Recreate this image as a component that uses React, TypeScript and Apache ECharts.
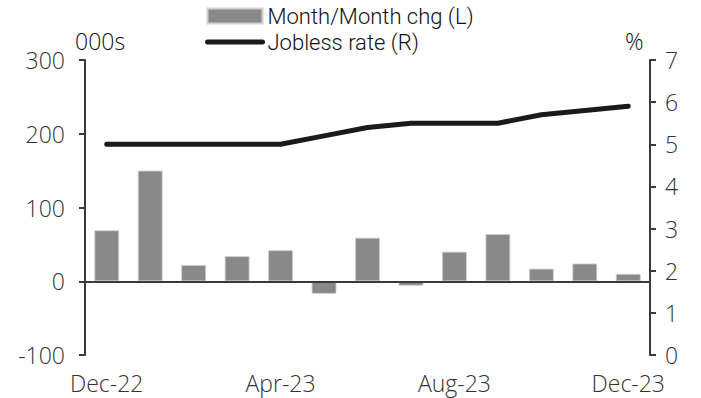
import React, { useEffect, useRef } from "react";
import * as echarts from "echarts";

const categories = ["Dec-22", "Jan-23", "Feb-23", "Mar-23", "Apr-23", "May-23", "Jun-23", "Jul-23", "Aug-23", "Sep-23", "Oct-23", "Nov-23", "Dec-23"];
const monthChg = [69, 150, 22, 34, 42, -17, 59, -6, 40, 64, 17, 24, 10];
const joblessRate = [5.0, 5.0, 5.0, 5.0, 5.0, 5.2, 5.4, 5.5, 5.5, 5.5, 5.7, 5.8, 5.9];
const leftTicks = { min: -100, max: 300, interval: 100 };
const rightTicks = { min: 0, max: 7, interval: 1 };

const FONT = "Open Sans";
const FS = 23;
const AXIS_COLOR = "#3a3a3a";

export default function App() {
  const ref = useRef<HTMLDivElement>(null);
  useEffect(() => {
    if (!ref.current) return;
    const chart = echarts.init(ref.current, undefined, { renderer: "svg" });
    chart.setOption({
      animation: false,
      backgroundColor: "#ffffff",
      textStyle: { fontFamily: FONT },
      grid: { left: 85, right: 51, top: 60, bottom: 43 },
      legend: {
        orient: "vertical",
        left: 205,
        top: 3,
        padding: 0,
        itemGap: 0,
        itemWidth: 55,
        itemHeight: 15,
        textStyle: { fontFamily: "Roboto", fontSize: 22, fontWeight: 300, color: "#111", lineHeight: 26 },
        data: [
          { name: "Month/Month chg (L)", icon: "rect" },
          { name: "Jobless rate (R)", itemStyle: { opacity: 0 }, lineStyle: { width: 5, color: "#1a1a1a", cap: "round" } },
        ],
      },
      graphic: [
        { type: "text", left: 75, top: 29, style: { text: "000s", fontFamily: FONT, fontSize: FS, fontWeight: 300, fill: "#111" } },
        { type: "text", left: 625, top: 29, style: { text: "%", fontFamily: FONT, fontSize: FS, fontWeight: 300, fill: "#111" } },
      ],
      xAxis: {
        type: "category",
        data: categories,
        boundaryGap: true,
        axisLine: { show: false, onZero: false },
        axisTick: { show: false },
        axisLabel: { interval: 3, fontFamily: FONT, fontSize: FS, fontWeight: 300, color: "#333", margin: 16 },
      },
      yAxis: [
        {
          type: "value",
          min: leftTicks.min,
          max: leftTicks.max,
          interval: leftTicks.interval,
          splitLine: { show: false },
          axisLine: { show: true, lineStyle: { color: AXIS_COLOR, width: 2 } },
          axisTick: { show: true, length: 6, lineStyle: { color: AXIS_COLOR, width: 2 } },
          axisLabel: { fontFamily: FONT, fontSize: FS, fontWeight: 300, color: "#333", margin: 20 },
        },
        {
          type: "value",
          position: "right",
          min: rightTicks.min,
          max: rightTicks.max,
          interval: rightTicks.interval,
          splitLine: { show: false },
          axisLine: { show: true, lineStyle: { color: AXIS_COLOR, width: 2 } },
          axisTick: { show: true, length: 6, lineStyle: { color: AXIS_COLOR, width: 2 } },
          axisLabel: { fontFamily: FONT, fontSize: FS, fontWeight: 300, color: "#333", margin: 15 },
        },
      ],
      series: [
        {
          name: "Month/Month chg (L)",
          type: "bar",
          yAxisIndex: 0,
          data: monthChg,
          barWidth: "57%",
          itemStyle: { color: "#898989", borderColor: "#d0d0d0", borderWidth: 0.8 },
          markLine: {
            silent: true,
            symbol: "none",
            label: { show: false },
            lineStyle: { color: AXIS_COLOR, width: 2, type: "solid" },
            data: [{ yAxis: 0 }],
          },
        },
        {
          name: "Jobless rate (R)",
          type: "line",
          yAxisIndex: 1,
          data: joblessRate,
          symbol: "none",
          lineStyle: { color: "#1a1a1a", width: 5, cap: "round", join: "round" },
          itemStyle: { color: "#1a1a1a" },
        },
      ],
    });
    return () => chart.dispose();
  }, []);
  return <div ref={ref} style={{ width: 701, height: 398, position: "absolute", left: 0, top: 0 }} />;
}
